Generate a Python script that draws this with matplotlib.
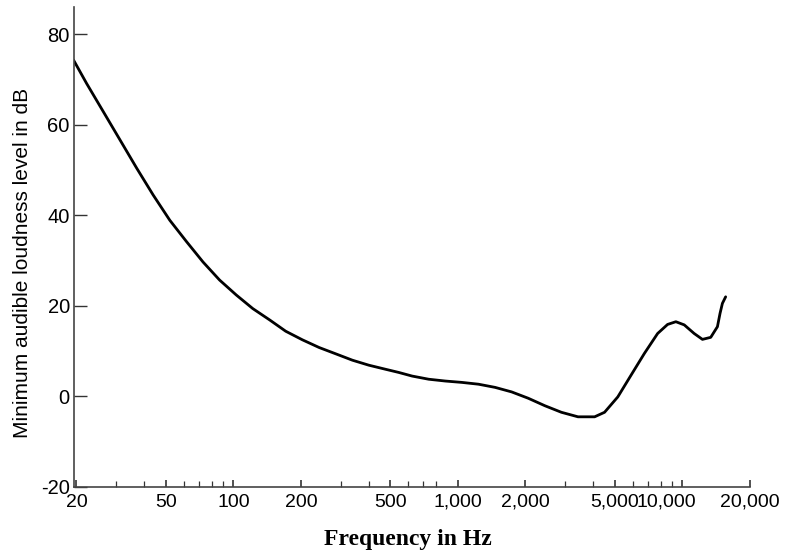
import matplotlib.pyplot as plt
from matplotlib.ticker import FixedLocator, NullFormatter
import matplotlib.transforms as mtransforms

# threshold of hearing curve
freq_hz = [19.4, 22.2, 26.4, 31.3, 37.1, 43.9, 52.1, 61.8, 73.2, 86.8,
           103, 122, 145, 171, 203, 241, 286, 339, 401, 476, 545,
           625, 741, 879, 1041, 1235, 1464, 1735, 2057, 2439, 2890,
           3427, 4064, 4500, 5155, 5906, 6771, 7755, 8590, 9350, 10190,
           11280, 12280, 13370, 14320, 14710, 15070, 15580]
level_db = [74.3, 69.1, 62.8, 56.6, 50.4, 44.5, 38.9, 34.2, 29.7, 25.7,
            22.4, 19.4, 16.9, 14.4, 12.5, 10.8, 9.4, 8.0, 6.9, 6.0, 5.3,
            4.5, 3.8, 3.4, 3.1, 2.7, 2.0, 1.0, -0.4, -2.05, -3.5,
            -4.5, -4.5, -3.5, -0.1, 4.7, 9.5, 13.9, 15.9, 16.5, 15.8,
            13.9, 12.6, 13.05, 15.4, 18.35, 20.55, 22.0]

major_ticks = [20, 50, 100, 200, 500, 1000, 2000, 5000, 10000, 20000]
major_labels = ['20', '50', '100', '200', '500', '1,000', '2,000', '5,000', '10,000', '20,000']
minor_ticks = [30, 40, 60, 70, 80, 90, 300, 400, 600, 700, 800, 3000, 4000,
               6000, 7000, 8000, 9000]
y_ticks = [-20, 0, 20, 40, 60, 80]

fig = plt.figure(figsize=(7.87, 5.55), dpi=100)
ax = fig.add_axes([74 / 787, 1 - 487 / 555, 676 / 787, 480 / 555])

ax.plot(freq_hz, level_db, color='black', linewidth=2.0,
        solid_capstyle='round', solid_joinstyle='round')

ax.set_xscale('log')
ax.set_xlim(19.5, 19500)
ax.set_ylim(-20, 86)

ax.xaxis.set_major_locator(FixedLocator(major_ticks))
ax.xaxis.set_minor_locator(FixedLocator(minor_ticks))
ax.xaxis.set_minor_formatter(NullFormatter())
ax.set_xticks(major_ticks)
ax.set_xticklabels(major_labels, fontsize=14, family='Liberation Sans')
ax.set_yticks(y_ticks)
ax.set_yticklabels([str(v) for v in y_ticks], fontsize=14.5, family='Liberation Sans')

ax.tick_params(axis='x', which='major', direction='in', length=5, width=1.2, pad=5, color='#333333')
ax.tick_params(axis='x', which='minor', direction='in', length=4, width=0.9, color='#333333')
ax.tick_params(axis='y', direction='in', length=9, width=1.0, pad=3, color='#333333')

for side in ['top', 'right']:
    ax.spines[side].set_visible(False)
for side in ['left', 'bottom']:
    ax.spines[side].set_color('#444444')
    ax.spines[side].set_linewidth(1.2)

# the "10,000" label sits a bit left of its tick in the original
for lab in ax.get_xticklabels():
    if lab.get_text() == '10,000':
        lab.set_transform(lab.get_transform() +
                          mtransforms.ScaledTranslation(-16 / 100, 0, fig.dpi_scale_trans))

ax.set_xlabel('Frequency in Hz', fontsize=17, fontweight='bold', family='Liberation Serif')
ax.set_ylabel('Minimum audible loudness level in dB', fontsize=15, family='Liberation Sans')
ax.xaxis.set_label_coords(0.494, -0.088)
ax.yaxis.set_label_coords(-0.062, 0.467)

plt.savefig('out.png', dpi=100)
